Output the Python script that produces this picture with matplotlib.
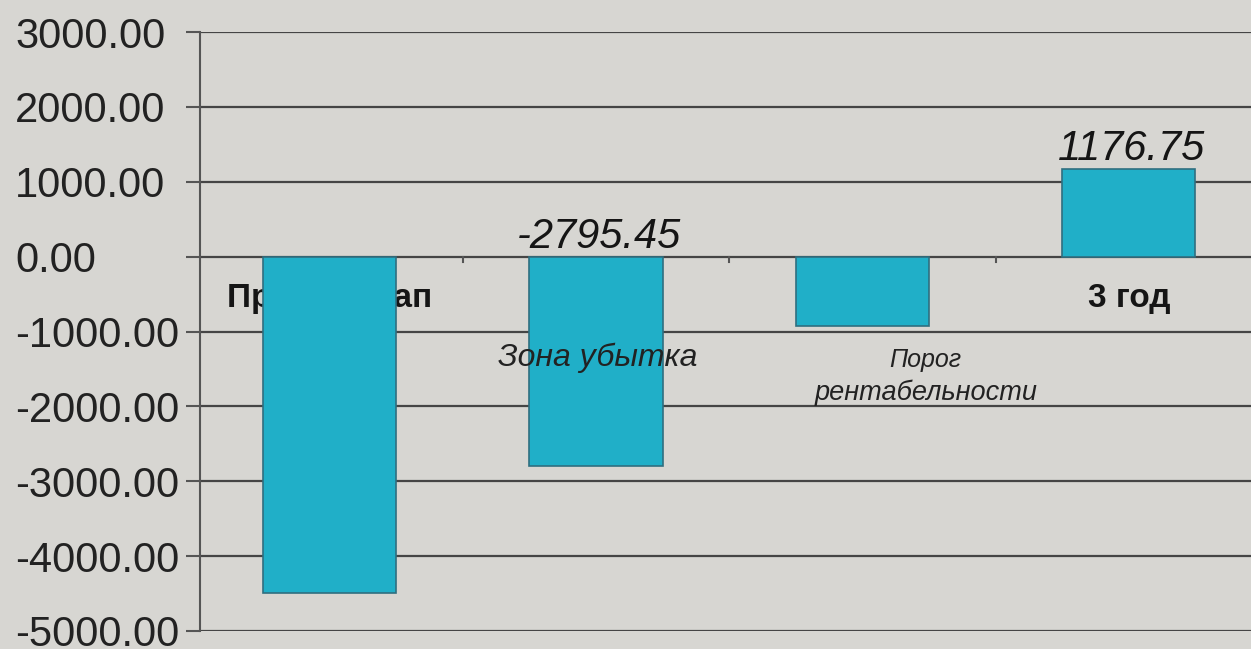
import matplotlib.pyplot as plt
import numpy as np

# данные
categories = ['Проект. этап', '1 год', '2 год', '3 год']
values = [-4490.0, -2795.45, -930.0, 1176.75]
value_labels = ['', '-2795.45', '', '1176.75']
yticks = [-5000, -4000, -3000, -2000, -1000, 0, 1000, 2000, 3000]

plt.rcParams['font.family'] = ['Liberation Sans', 'DejaVu Sans']

bg = '#d7d6d2'
fig = plt.figure(figsize=(12.51, 6.49), dpi=100, facecolor=bg)
ax = fig.add_axes([200 / 1251, 1 - 631 / 649, 1062 / 1251, 599 / 649])
ax.set_facecolor(bg)

x = np.arange(len(categories))
ax.bar(x, values, width=0.5, color='#20afc8', edgecolor='#2f6f80', linewidth=1.2, zorder=3)

ax.set_xlim(-0.486, len(categories) - 0.5)
ax.set_ylim(-5000, 3000)
ax.set_yticks(yticks)
ax.set_yticklabels([f'{v:.2f}' for v in yticks], fontsize=30, color='#222222', ha='left')
# подписи оси Y выровнены по левому краю
ax.tick_params(axis='y', length=10, width=1.5, color='#555555', pad=123)
ax.set_xticks([])

for v in yticks:
    ax.axhline(v, color='#454545', linewidth=1.6, zorder=1)

# метки между категориями на нулевой линии
for xt in x[:-1] + 0.5:
    ax.plot([xt, xt], [0, -75], color='#555555', linewidth=1.5, zorder=1)

for s in ['top', 'right', 'bottom']:
    ax.spines[s].set_visible(False)
ax.spines['left'].set_color('#555555')
ax.spines['left'].set_linewidth(1.5)

# подписи категорий (за столбцами)
for i, c in enumerate(categories):
    ax.text(i, -560, c, ha='center', va='center', fontsize=24, fontweight='bold',
            color='#151515', zorder=2)

# значения над столбцами
for i, (v, lab) in enumerate(zip(values, value_labels)):
    if lab:
        ax.text(i + 0.01, max(v, 0) + 115, lab, ha='center', va='baseline', fontsize=30,
                fontstyle='italic', color='#151515', zorder=4)

ax.text(1.007, -1465, 'Зона убытка', ha='center', va='baseline', fontsize=23,
        fontstyle='italic', color='#222222', zorder=4)
ax.text(2.238, -1480, 'Порог', ha='center', va='baseline', fontsize=18,
        fontstyle='italic', color='#222222', zorder=4)
ax.text(2.238, -1920, 'рентабельности', ha='center', va='baseline', fontsize=19.5,
        fontstyle='italic', color='#222222', zorder=4)

fig.savefig('out.png', dpi=100, facecolor=bg)
